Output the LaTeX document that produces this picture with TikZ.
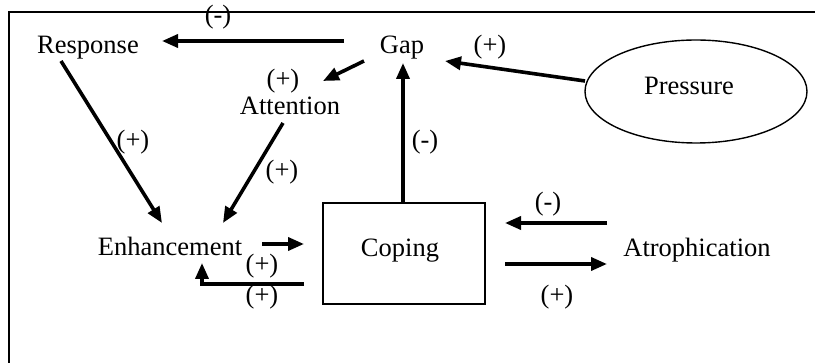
\documentclass[tikz,border=0pt]{standalone}
\usepackage{fontspec}
\setmainfont{Liberation Serif}
\usetikzlibrary{arrows.meta,shapes.geometric}
\begin{document}
\begin{tikzpicture}[x=1pt,y=-1pt,
  word/.style={font=\fontsize{26.5}{30}\selectfont, inner sep=0pt, anchor=base},
  sign/.style={font=\fontsize{26.5}{30}\selectfont, inner sep=0pt},
  flow/.style={line width=3.6pt, -{Triangle[length=16pt,width=13pt]}},
  outline/.style={draw, line width=1.4pt}]
\useasboundingbox (0,0) rectangle (815,363);

% open frame: left and top edges only
\coordinate (fbl) at (9,363);
\coordinate (ftl) at (9,12);
\coordinate (ftr) at (815,12);
\draw[line width=1.8pt] (fbl) -- (ftl) -- (ftr);

% concepts
\node[word] (resp) at (88,54) {Response};
\node[word] (gap) at (402,54) {Gap};
\node[word] (attn) at (290,115) {Attention};
\node[word] (enh) at (170,256) {Enhancement};
\node[word] (atro) at (697,257) {Atrophication};
\node[outline, minimum width=162pt, minimum height=101pt, inner sep=0pt] (cop) at (404,253.5) {};
\node[word] (coptext) at (400,257) {Coping};
\node[outline, ellipse, minimum width=222pt, minimum height=103pt, inner sep=0pt] (pres) at (696,91.5) {};
\node[word] (prestext) at (689,95) {Pressure};

% connector ends
\coordinate (gapW) at (344,41);
\coordinate (respE) at (162,41);
\coordinate (gapSW) at (364,61);
\coordinate (attnNE) at (323,81);
\coordinate (respS) at (61,61);
\coordinate (enhNW) at (162,223);
\coordinate (attnS) at (283,123);
\coordinate (enhNE) at (223,223);
\coordinate (enhE) at (262,244);
\coordinate (copW) at (304,244);
\coordinate (copWlow) at (304,284);
\coordinate (bend) at (202,284);
\coordinate (enhS) at (202,263);
\coordinate (copN) at (403,203);
\coordinate (gapS) at (403,63);
\coordinate (presW) at (585,81);
\coordinate (gapE) at (445,61);
\coordinate (atroWup) at (607,223);
\coordinate (copEup) at (505,223);
\coordinate (copElow) at (505,264);
\coordinate (atroWlow) at (607,264);

% causal links
\draw[flow] (gapW) -- (respE);
\draw[flow] (gapSW) -- (attnNE);
\draw[flow] (respS) -- (enhNW);
\draw[flow] (attnS) -- (enhNE);
\draw[flow] (enhE) -- (copW);
\draw[flow] (copWlow) -- (bend) -- (enhS);
\draw[flow] (copN) -- (gapS);
\draw[flow] (presW) -- (gapE);
\draw[flow] (atroWup) -- (copEup);
\draw[flow] (copElow) -- (atroWlow);

% link polarities
\node[sign] (s1) at (218,17.5) {(-)};
\node[sign] (s2) at (283,81) {(+)};
\node[sign] (s3) at (133,142) {(+)};
\node[sign] (s4) at (282,172.5) {(+)};
\node[sign] (s5) at (425,142) {(-)};
\node[sign] (s6) at (490,47) {(+)};
\node[sign] (s7) at (262,266) {(+)};
\node[sign] (s8) at (262,297.5) {(+)};
\node[sign] (s9) at (548,204) {(-)};
\node[sign] (s10) at (557,297.5) {(+)};
\end{tikzpicture}
\end{document}
